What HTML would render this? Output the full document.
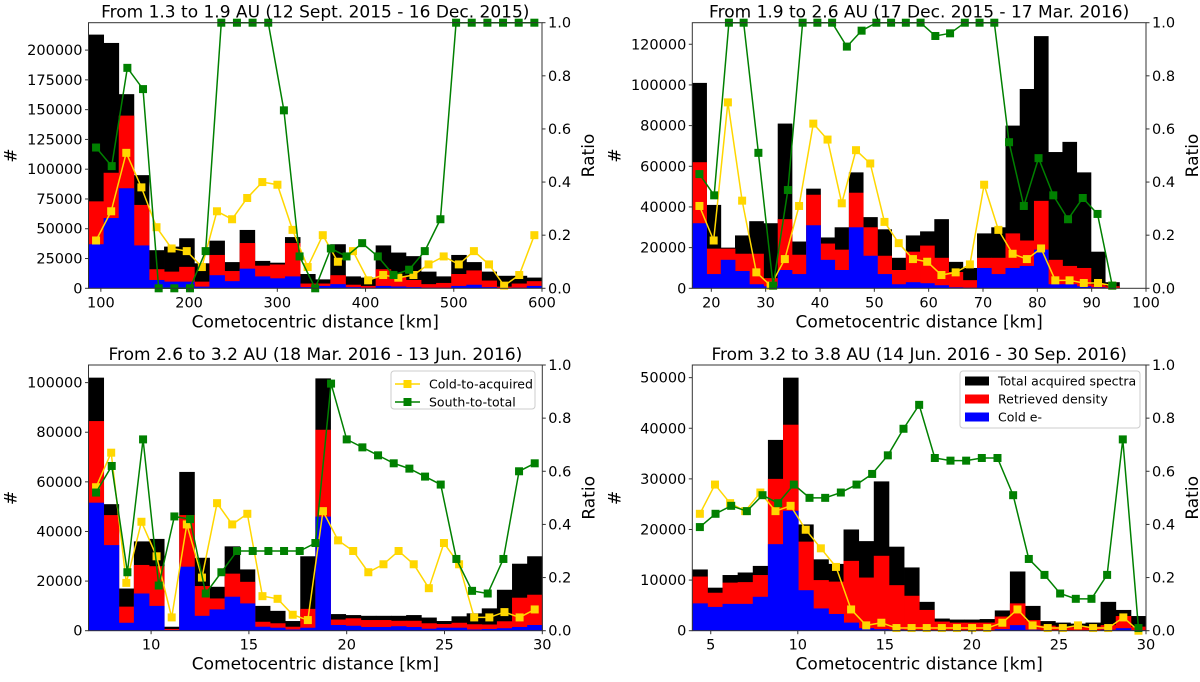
<!DOCTYPE html>
<html><head><meta charset="utf-8"><style>
body{margin:0;background:#fff;width:1200px;height:677px;overflow:hidden}
svg{font-family:"DejaVu Sans","Liberation Sans",sans-serif}
</style></head><body>
<svg id="fig" width="1200" height="677" viewBox="0 0 1200 677"></svg>
<script>
// ---------- Panel 1 data ----------
const p1Total=[213000,206000,163000,95000,32000,35000,42000,21000,40000,22000,49000,23000,21500,43000,12000,7500,37000,10000,9000,36000,30000,27000,14000,10000,28000,22000,14000,10500,10500,9000];
const p1Retrieved=[73000,97000,145000,70000,16000,14000,18000,5600,28000,14500,38000,19000,20000,38000,4000,4000,11000,3000,2000,16000,10000,7000,3500,4500,12000,15000,6500,1400,4000,6000];
const p1Cold=[37000,59000,84000,36000,7000,5600,5600,1400,11000,6000,16500,10000,8400,10000,1000,2000,3500,1000,500,2000,1500,1000,500,500,2000,3000,1000,300,500,2000];
const p1ColdRatio=[0.18,0.29,0.51,0.38,0.23,0.15,0.14,0.08,0.29,0.26,0.34,0.40,0.39,0.22,0.08,0.20,0.10,0.14,0.03,0.05,0.04,0.05,0.09,0.12,0.09,0.14,0.09,0.01,0.05,0.20];
const p1SouthRatio=[0.53,0.46,0.83,0.75,0.0,0.0,0.0,0.14,1,1,1,1,0.67,0.12,0.0,0.15,0.12,0.17,0.12,0.05,0.07,0.14,0.26,1,1,1,1,1,1];
const p1YTicks=[0,25000,50000,75000,100000,125000,150000,175000,200000];
const p1XTicks=[100,200,300,400,500,600];
// ---------- Panel 2 data ----------
const p2Total=[101000,41000,20000,26000,33000,32000,81000,23000,49000,25000,30000,57000,35000,29000,15000,26000,28000,34000,13000,10000,27000,30000,80000,98000,124000,67000,72000,57000,18000,3000];
const p2Retrieved=[62000,19500,19500,17000,17000,5000,34000,16500,46000,22000,19000,47000,30000,16000,9000,18000,21000,15000,8000,4000,15000,15000,27000,23500,43000,14000,11000,10000,2000,1000];
const p2Cold=[32000,7000,14000,8500,2000,1000,9000,7000,31000,14000,9000,30000,16000,7000,2000,3000,2500,1500,500,300,10000,7000,10000,11000,19000,2000,2000,1000,500,200];
const p2ColdRatio=[0.31,0.18,0.70,0.33,0.06,0.01,0.11,0.31,0.62,0.56,0.32,0.52,0.47,0.25,0.17,0.11,0.10,0.05,0.06,0.09,0.39,0.22,0.13,0.11,0.15,0.03,0.03,0.02,0.02,0.01];
const p2SouthRatio=[0.43,0.35,1,1,0.51,0.01,0.37,1,1,1,0.91,0.97,1,1,1,1,0.95,0.96,1,1,1,0.55,0.31,0.49,0.35,0.26,0.34,0.28,0.01];
const p2YTicks=[0,20000,40000,60000,80000,100000,120000];
const p2XTicks=[20,30,40,50,60,70,80,90,100];
// ---------- Panel 3 data ----------
const p3Total=[102000,51000,17000,36000,37000,1600,64000,29400,17700,34000,24700,10000,8000,3900,30000,101700,6700,6300,6000,6000,6000,6300,5300,3900,5800,7000,9000,16500,27000,30000];
const p3Retrieved=[84500,46600,9700,26500,26000,700,46600,18000,13000,23000,19700,3600,3000,1600,8800,81000,4500,5000,4300,4300,4000,4000,3000,2700,3200,2600,2500,3800,13300,14500];
const p3Cold=[51600,34500,3200,15000,10000,300,25800,6000,8600,13700,11000,1600,1200,500,1200,46000,2300,2000,1500,1500,1800,1500,800,1200,1200,500,700,1000,1500,2300];
const p3ColdRatio=[0.54,0.67,0.18,0.41,0.28,0.05,0.40,0.20,0.48,0.40,0.44,0.13,0.12,0.06,0.04,0.45,0.34,0.30,0.22,0.25,0.30,0.25,0.16,0.33,0.25,0.05,0.05,0.07,0.05,0.08];
const p3SouthRatio=[0.52,0.62,0.22,0.72,0.17,0.43,0.42,0.14,0.22,0.30,0.30,0.30,0.30,0.30,0.33,0.93,0.72,0.69,0.66,0.63,0.61,0.58,0.55,0.27,0.15,0.14,0.27,0.60,0.63];
const p3YTicks=[0,20000,40000,60000,80000,100000];
const p3XTicks=[10,15,20,25,30];
// ---------- Panel 4 data ----------
const p4Total=[12100,8500,11000,11500,12800,37700,50000,21000,14100,13200,20000,17700,29500,16600,12500,5700,2400,2200,2200,2300,4000,11700,4900,1900,1600,1400,1600,5700,4100,2900];
const p4Retrieved=[10700,7500,9500,9600,11000,30000,40700,17600,10000,9700,13800,10500,14800,9000,6900,4100,1800,1600,1600,1600,2800,5400,2100,1000,800,700,800,1100,2900,800];
const p4Cold=[5400,4700,5300,5300,6700,17100,23700,8000,4400,3300,1600,500,300,200,100,100,50,50,50,50,300,1100,200,50,50,50,50,200,500,100];
const p4ColdRatio=[0.44,0.55,0.48,0.45,0.52,0.45,0.47,0.38,0.31,0.24,0.08,0.02,0.03,0.01,0.01,0.01,0.01,0.01,0.01,0.01,0.03,0.08,0.02,0.01,0.01,0.02,0.01,0.01,0.05,0.0];
const p4SouthRatio=[0.39,0.44,0.47,0.45,0.51,0.48,0.55,0.50,0.50,0.52,0.55,0.59,0.66,0.76,0.85,0.65,0.64,0.64,0.65,0.65,0.51,0.27,0.21,0.14,0.12,0.12,0.21,0.72,0.01];
const p4YTicks=[0,10000,20000,30000,40000,50000];
const p4XTicks=[5,10,15,20,25,30];
const ratioTicks=[0,0.2,0.4,0.6,0.8,1.0];
const yLabels=["0.0","0.2","0.4","0.6","0.8","1.0"];

const NS="http://www.w3.org/2000/svg";
const fig=document.getElementById('fig');
function mk(tag,attrs,parent){const e=document.createElementNS(NS,tag);for(const k in attrs)e.setAttribute(k,attrs[k]);(parent||fig).appendChild(e);return e;}

const panels=[
 {id:'p1',title:'From 1.3 to 1.9 AU (12 Sept. 2015 - 16 Dec. 2015)',L:88.5,R:542,T:22.7,B:288.3,xmin:86,xmax:600,ymax:223000,bin0:86,bw:17.13,
  tot:p1Total,ret:p1Retrieved,cold:p1Cold,yr:p1ColdRatio,gr:p1SouthRatio,yt:p1YTicks,xt:p1XTicks},
 {id:'p2',title:'From 1.9 to 2.6 AU (17 Dec. 2015 - 17 Mar. 2016)',L:692.3,R:1146,T:22.7,B:288.3,xmin:16.5,xmax:100,ymax:130600,bin0:16.5,bw:2.62,
  tot:p2Total,ret:p2Retrieved,cold:p2Cold,yr:p2ColdRatio,gr:p2SouthRatio,yt:p2YTicks,xt:p2XTicks},
 {id:'p3',title:'From 2.6 to 3.2 AU (18 Mar. 2016 - 13 Jun. 2016)',L:88.5,R:542.3,T:365,B:630.7,xmin:6.8,xmax:30,ymax:107100,bin0:6.8,bw:0.7733,
  tot:p3Total,ret:p3Retrieved,cold:p3Cold,yr:p3ColdRatio,gr:p3SouthRatio,yt:p3YTicks,xt:p3XTicks,legend:'lines'},
 {id:'p4',title:'From 3.2 to 3.8 AU (14 Jun. 2016 - 30 Sep. 2016)',L:692.3,R:1146,T:365,B:630.7,xmin:3.94,xmax:30,ymax:52500,bin0:3.94,bw:0.8687,
  tot:p4Total,ret:p4Retrieved,cold:p4Cold,yr:p4ColdRatio,gr:p4SouthRatio,yt:p4YTicks,xt:p4XTicks,legend:'bars'}
];

panels.forEach(p=>{
  const g=mk('g',{});
  
  
  const X=v=>p.L+(v-p.xmin)/(p.xmax-p.xmin)*(p.R-p.L);
  const Y=v=>p.B-v/p.ymax*(p.B-p.T);
  const YR=v=>p.B-v*(p.B-p.T);
  const n=p.tot.length;
  const series=[[p.tot,'#000000','total'],[p.ret,'#ff0000','retrieved'],[p.cold,'#0000ff','cold']];
  series.forEach(([arr,col,nm])=>{
    arr.forEach((v,i)=>{
      const x0=X(p.bin0+i*p.bw),x1=X(p.bin0+(i+1)*p.bw);
      const r=mk('rect',{x:x0,y:Y(v),width:x1-x0+0.4,height:p.B-Y(v),fill:col},g);
      
      
    });
  });
  const cx=i=>X(p.bin0+(i+0.5)*p.bw);
  const drawLine=(arr,col,nm,xs)=>{
    const pts=arr.map((v,i)=>xs(i)+','+YR(v)).join(' ');
    const pl=mk('polyline',{points:pts,fill:'none',stroke:col,'stroke-width':1.5},g);
    
    
    arr.forEach((v,i)=>{
      const m=mk('rect',{x:xs(i)-4,y:YR(v)-4,width:8,height:8,fill:col},g);
      
      
    });
  };
  drawLine(p.yr,'#ffd700','cold-ratio',cx);
  const gn=p.gr.length;
  const gx=i=>cx(0)+i*(cx(n-1)-cx(0))/(gn-1);
  drawLine(p.gr,'#008000','south-ratio',gx);
  const fr=mk('rect',{x:p.L,y:p.T,width:p.R-p.L,height:p.B-p.T,fill:'none',stroke:'#333','stroke-width':1},g);
  
  
  p.yt.forEach(v=>{
    mk('line',{x1:p.L-3.5,x2:p.L,y1:Y(v),y2:Y(v),stroke:'#333'},g);
    const t=mk('text',{x:p.L-6,y:Y(v)+5,'font-size':14.5,'text-anchor':'end',fill:'#000'},g);
    t.textContent=v;
    
    
  });
  ratioTicks.forEach((v,i)=>{
    mk('line',{x1:p.R,x2:p.R+3.5,y1:YR(v),y2:YR(v),stroke:'#333'},g);
    const t=mk('text',{x:p.R+6,y:YR(v)+5,'font-size':14.5,fill:'#000'},g);
    t.textContent=yLabels[i];
    
    
  });
  p.xt.forEach(v=>{
    mk('line',{x1:X(v),x2:X(v),y1:p.B,y2:p.B+3.5,stroke:'#333'},g);
    const t=mk('text',{x:X(v),y:p.B+19,'font-size':14.5,'text-anchor':'middle',fill:'#000'},g);
    t.textContent=v;
    
    
  });
  const cxm=(p.L+p.R)/2;
  const tt=mk('text',{x:cxm,y:p.T-5,'font-size':17,'text-anchor':'middle',fill:'#000'},g);
  tt.textContent=p.title;
  
  
  const xl=mk('text',{x:cxm,y:p.B+39,'font-size':17,'text-anchor':'middle',fill:'#000'},g);
  xl.textContent='Cometocentric distance [km]';
  
  
  const ym=(p.T+p.B)/2;
  const yl=mk('text',{x:p.L-72,y:ym,'font-size':17,'text-anchor':'middle',transform:`rotate(-90 ${p.L-72} ${ym})`,fill:'#000'},g);
  yl.textContent='#';
  
  
  const rl=mk('text',{x:p.R+52,y:ym,'font-size':17,'text-anchor':'middle',transform:`rotate(-90 ${p.R+52} ${ym})`,fill:'#000'},g);
  rl.textContent='Ratio';
  
  
  if(p.legend==='lines'){
    const lg=mk('g',{},g);
    
    
    mk('rect',{x:391,y:371,width:144,height:38,rx:3,fill:'#fff','fill-opacity':0.8,stroke:'#ccc'},lg);
    [['#ffd700','Cold-to-acquired',384],['#008000','South-to-total',402]].forEach(([c,l,yy])=>{
      const e=mk('g',{},lg);
      
      
      mk('line',{x1:395,x2:420,y1:yy,y2:yy,stroke:c,'stroke-width':1.5},e);
      mk('rect',{x:403.5,y:yy-4,width:8,height:8,fill:c},e);
      const t=mk('text',{x:429,y:yy+4.5,'font-size':12.5,fill:'#000'},e);t.textContent=l;
    });
  }
  if(p.legend==='bars'){
    const lg=mk('g',{},g);
    
    
    mk('rect',{x:960,y:371,width:180,height:57,rx:3,fill:'#fff','fill-opacity':0.8,stroke:'#ccc'},lg);
    [['#000000','Total acquired spectra',381],['#ff0000','Retrieved density',399],['#0000ff','Cold e-',417]].forEach(([c,l,yy])=>{
      const e=mk('g',{},lg);
      
      
      mk('rect',{x:965,y:yy-4.5,width:24,height:9,fill:c},e);
      const t=mk('text',{x:998,y:yy+4.5,'font-size':12.5,fill:'#000'},e);t.textContent=l;
    });
  }
});
</script>
</body></html>
